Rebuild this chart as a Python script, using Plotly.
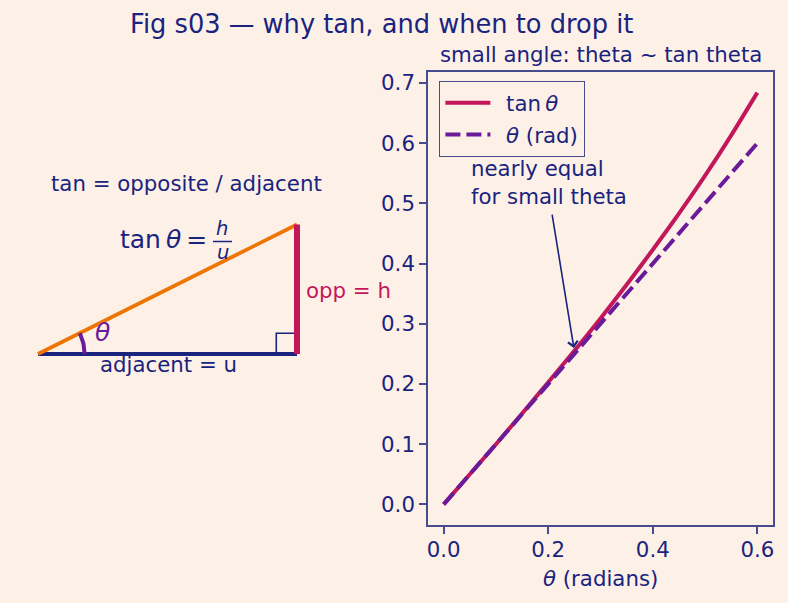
import math
import plotly.graph_objects as go

# ---------------- data ----------------
theta = [0.0, 0.05, 0.10, 0.15, 0.20, 0.25, 0.30, 0.35, 0.40, 0.45, 0.50, 0.55, 0.60]
tan_theta = [0.0, 0.050, 0.100, 0.151, 0.203, 0.255, 0.309, 0.365, 0.423, 0.483, 0.546, 0.613, 0.684]
theta_rad = [0.0, 0.05, 0.10, 0.15, 0.20, 0.25, 0.30, 0.35, 0.40, 0.45, 0.50, 0.55, 0.60]

x_ticks = [0.0, 0.2, 0.4, 0.6]
y_ticks = [0.0, 0.1, 0.2, 0.3, 0.4, 0.5, 0.6, 0.7]

# triangle diagram (adjacent u, opposite h)
tri_u = 1.0
tri_h = 0.5
arc_r = 0.18
sq = 0.08

# annotation target
note_x, note_y = 0.25, 0.255

# ---------------- style ----------------
W, H = 788, 603
BG = "#fdf1e7"
NAVY = "#1a237e"
CRIMSON = "#c2185b"
PURPLE = "#6a1b9a"
ORANGE = "#f07400"
SPINE = "#474d8c"
FONT = "DejaVu Sans"
FS = 21.3


def px(xp):
    return xp / W


def py(yp):
    return 1 - yp / H


fig = go.Figure()

# ---------------- right panel: tan vs theta ----------------
fig.add_trace(go.Scatter(x=theta, y=tan_theta, mode="lines", name="\u2002tan\u2009<i>θ</i>",
                         legendgroup="a",
                         line=dict(color=CRIMSON, width=4, shape="spline", smoothing=0.6),
                         xaxis="x", yaxis="y"))
fig.add_trace(go.Scatter(x=theta, y=theta_rad, mode="lines", name="\u2002<i>θ</i> (rad)",
                         legendgroup="b",
                         line=dict(color=PURPLE, width=4, dash="15px,6px"),
                         xaxis="x", yaxis="y"))

# ---------------- left panel: triangle ----------------
fig.add_trace(go.Scatter(x=[0, tri_u], y=[0, 0], mode="lines", showlegend=False,
                         line=dict(color=NAVY, width=4), xaxis="x2", yaxis="y2"))
fig.add_trace(go.Scatter(x=[tri_u - sq, tri_u - sq, tri_u], y=[0, sq, sq], mode="lines",
                         showlegend=False, line=dict(color=NAVY, width=1.6),
                         xaxis="x2", yaxis="y2"))
fig.add_trace(go.Scatter(x=[0, tri_u], y=[0, tri_h], mode="lines", showlegend=False,
                         line=dict(color=ORANGE, width=3.8), xaxis="x2", yaxis="y2"))
fig.add_trace(go.Scatter(x=[tri_u, tri_u], y=[0, tri_h], mode="lines", showlegend=False,
                         line=dict(color=CRIMSON, width=6), xaxis="x2", yaxis="y2"))
ang = math.atan2(tri_h, tri_u)
n_arc = 30
arc_x = [arc_r * math.cos(ang * i / n_arc) for i in range(n_arc + 1)]
arc_y = [arc_r * math.sin(ang * i / n_arc) for i in range(n_arc + 1)]
fig.add_trace(go.Scatter(x=arc_x, y=arc_y, mode="lines", showlegend=False,
                         line=dict(color=PURPLE, width=4), xaxis="x2", yaxis="y2"))

# left axis scale: 259 px per unit, origin at pixel (38, 354)
S = 259.0
ox, oy = 38.0, 354.0
left_w = 394.0

fig.update_layout(
    width=W, height=H,
    margin=dict(l=0, r=0, t=0, b=0, pad=0),
    paper_bgcolor=BG, plot_bgcolor=BG,
    font=dict(family=FONT, color=NAVY, size=FS),
    showlegend=True,
    legend=dict(x=px(439), y=py(81), xanchor="left", yanchor="top",
                bgcolor=BG, bordercolor=SPINE, borderwidth=1.4,
                font=dict(size=FS, color=NAVY), itemwidth=45,
                tracegroupgap=1),
    xaxis=dict(domain=[px(428), px(773)], range=[-0.03, 0.63],
               tickvals=x_ticks, ticktext=[f"{v:.1f}" for v in x_ticks],
               ticks="outside", ticklen=7, tickwidth=1.6, tickcolor=SPINE,
               showline=True, linecolor=SPINE, linewidth=1.6, mirror=True,
               showgrid=False, zeroline=False, automargin=False,
               ticklabelstandoff=-2,
               tickfont=dict(size=FS, color=NAVY)),
    yaxis=dict(domain=[py(525), py(72)], range=[-0.0342, 0.7183],
               tickvals=y_ticks, ticktext=[f"{v:.1f}" for v in y_ticks],
               ticks="outside", ticklen=7, tickwidth=1.6, tickcolor=SPINE,
               showline=True, linecolor=SPINE, linewidth=1.6, mirror=True,
               showgrid=False, zeroline=False, automargin=False,
               tickfont=dict(size=FS, color=NAVY)),
    xaxis2=dict(domain=[0, px(left_w)], range=[-ox / S, (left_w - ox) / S],
                visible=False, anchor="y2"),
    yaxis2=dict(domain=[0, 1], range=[-(H - oy) / S, oy / S],
                visible=False, anchor="x2"),
)


def txt(text, x, y, size=FS, color=NAVY, xanchor="center", **kw):
    d = dict(text=text, x=px(x), y=py(y), xref="paper", yref="paper", showarrow=False,
             font=dict(size=size, color=color), xanchor=xanchor, yanchor="middle",
             borderpad=0)
    d.update(kw)
    return d


ann = [
    txt("Fig s03 \u2014 why tan, and when to drop it", 381.5, 24, size=25.7),
    txt("small angle: theta ~ tan theta", 600.5, 54),
    txt("<i>θ</i> (radians)", 600.5, 578),
    txt("tan = opposite / adjacent", 186.5, 183),
    txt("tan\u2009<i>θ</i>\u2009=", 208, 239, size=25, xanchor="right"),
    txt("<i>h</i>", 221.5, 229, size=19.5),
    txt("<i>u</i>", 222.5, 252, size=19.5),
    txt("<i>θ</i>", 102.5, 332, size=25, color=PURPLE),
    txt("opp = h", 305, 290, color=CRIMSON, xanchor="left"),
    txt("adjacent = u", 168.5, 364),
    dict(text="nearly equal<br>for small theta", x=0.05, y=0.5, xref="x", yref="y",
         showarrow=False, align="left", font=dict(size=FS, color=NAVY),
         xanchor="left", yanchor="bottom", yshift=-7, borderpad=0),
    dict(text="", x=note_x, y=note_y, xref="x", yref="y",
         ax=0.207, ay=0.484, axref="x", ayref="y",
         showarrow=True, arrowhead=4, arrowsize=1.2, arrowwidth=1.6,
         arrowcolor=NAVY, standoff=3),
]
fig.update_layout(annotations=ann)

# fraction bar
fig.add_shape(type="line", xref="paper", yref="paper",
              x0=px(213), x1=px(232), y0=py(241.5), y1=py(241.5),
              line=dict(color=NAVY, width=1.5))

fig.write_html("out.html")
